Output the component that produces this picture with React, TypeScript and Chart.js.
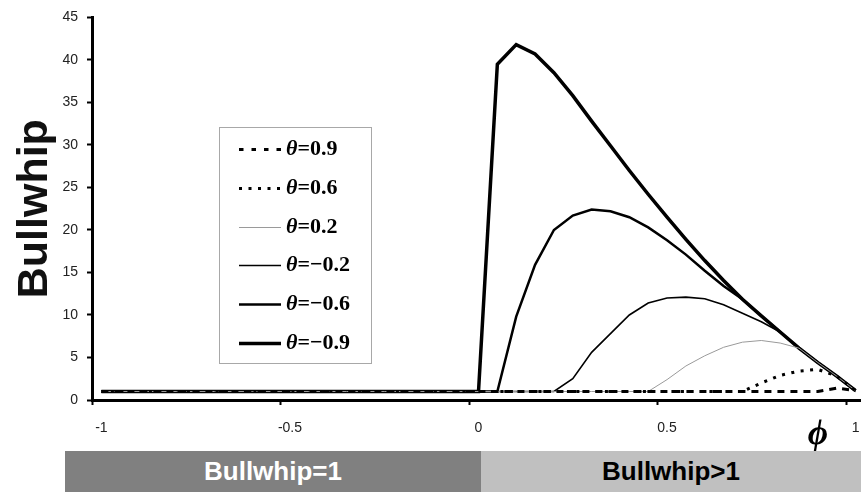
import React, { useEffect, useRef } from 'react';
import { Chart, registerables } from 'chart.js';

Chart.register(...registerables);

// phi categories (-1 .. 1 step 0.05)
const PHI = [
  '-1', '-0.95', '-0.9', '-0.85', '-0.8', '-0.75', '-0.7', '-0.65', '-0.6', '-0.55',
  '-0.5', '-0.45', '-0.4', '-0.35', '-0.3', '-0.25', '-0.2', '-0.15', '-0.1', '-0.05',
  '0', '0.05', '0.1', '0.15', '0.2', '0.25', '0.3', '0.35', '0.4', '0.45',
  '0.5', '0.55', '0.6', '0.65', '0.7', '0.75', '0.8', '0.85', '0.9', '0.95', '1',
];

const X_TICK_LABELS = ['-1', '-0.5', '0', '0.5', '1'];
const Y_TICKS_MAX = 45;

const SERIES_LABELS = ['θ=0.9', 'θ=0.6', 'θ=0.2', 'θ=−0.2', 'θ=−0.6', 'θ=−0.9'];

const THETA_P09 = [
  1, 1, 1, 1, 1, 1, 1, 1, 1, 1, 1, 1, 1, 1, 1, 1, 1, 1, 1, 1, 1,
  1, 1, 1, 1, 1, 1, 1, 1, 1, 1, 1, 1, 1, 1, 1, 1, 1, 1, 1.4, 1.1,
];
const THETA_P06 = [
  1, 1, 1, 1, 1, 1, 1, 1, 1, 1, 1, 1, 1, 1, 1, 1, 1, 1, 1, 1, 1,
  1, 1, 1, 1, 1, 1, 1, 1, 1, 1, 1, 1, 1, 1, 2.0, 2.9, 3.4, 3.6, 2.8, 1.1,
];
const THETA_P02 = [
  1, 1, 1, 1, 1, 1, 1, 1, 1, 1, 1, 1, 1, 1, 1, 1, 1, 1, 1, 1, 1,
  1, 1, 1, 1, 1, 1, 1, 1, 1, 2.4, 4.0, 5.2, 6.2, 6.8, 7.0, 6.7, 6.1, 4.4, 2.8, 1.1,
];
const THETA_M02 = [
  1, 1, 1, 1, 1, 1, 1, 1, 1, 1, 1, 1, 1, 1, 1, 1, 1, 1, 1, 1, 1,
  1, 1, 1, 1, 2.5, 5.6, 7.8, 10.0, 11.4, 12.0, 12.1, 11.9, 11.2, 10.2, 9.2, 8.0, 6.1, 4.4, 2.8, 1.1,
];
const THETA_M06 = [
  1, 1, 1, 1, 1, 1, 1, 1, 1, 1, 1, 1, 1, 1, 1, 1, 1, 1, 1, 1, 1,
  1, 9.8, 15.9, 20.0, 21.7, 22.4, 22.2, 21.5, 20.3, 18.8, 17.1, 15.2, 13.4, 11.85, 9.9, 8.0, 6.1, 4.4, 2.8, 1.1,
];
const THETA_M09 = [
  1, 1, 1, 1, 1, 1, 1, 1, 1, 1, 1, 1, 1, 1, 1, 1, 1, 1, 1, 1, 1,
  39.5, 41.8, 40.7, 38.5, 35.8, 32.8, 29.9, 27.0, 24.2, 21.5, 18.9, 16.4, 14.05, 11.85, 9.9, 8.0, 6.1, 4.4, 2.8, 1.1,
];

const overlayPlugin = {
  id: 'overlay',
  afterDraw(chart: any) {
    const ctx = chart.ctx;
    ctx.save();
    // legend box
    const bx = 219.5, by = 127.5, bw = 152, bh = 236;
    ctx.fillStyle = '#fff';
    ctx.fillRect(bx, by, bw, bh);
    ctx.strokeStyle = '#a8a8a8';
    ctx.lineWidth = 1;
    ctx.setLineDash([]);
    ctx.strokeRect(bx, by, bw, bh);
    chart.data.datasets.forEach((ds: any, i: number) => {
      const y = Math.round(149 + i * 38.8) + 0.5;
      ctx.beginPath();
      ctx.setLineDash(ds.legendDash || ds.borderDash || []);
      ctx.lineWidth = ds.borderWidth;
      ctx.strokeStyle = ds.borderColor;
      ctx.lineCap = 'butt';
      ctx.moveTo(239, y);
      ctx.lineTo(281, y);
      ctx.stroke();
      ctx.setLineDash([]);
      ctx.fillStyle = '#000';
      ctx.textBaseline = 'middle';
      ctx.textAlign = 'left';
      ctx.font = 'italic bold 22px "Liberation Serif", "DejaVu Serif", serif';
      ctx.fillText('θ', 286, y);
      const w = ctx.measureText('θ').width;
      ctx.font = 'bold 22px "Liberation Serif", "DejaVu Serif", serif';
      ctx.fillText(ds.label.slice(1), 286 + w, y);
    });
    // phi axis title
    const xs = chart.scales.x;
    ctx.font = 'italic bold 35px "Liberation Serif", "DejaVu Serif", serif';
    ctx.textAlign = 'center';
    ctx.textBaseline = 'middle';
    ctx.fillStyle = '#000';
    ctx.fillText('ϕ', xs.getPixelForValue(38), 435);
    ctx.restore();
  },
};

export default function App() {
  const ref = useRef<HTMLCanvasElement | null>(null);

  useEffect(() => {
    if (!ref.current) return;
    const mk = (i: number, data: number[], color: string, width: number, dash?: number[], legendDash?: number[]) => ({
      label: SERIES_LABELS[i],
      data,
      borderColor: color,
      backgroundColor: color,
      borderWidth: width,
      borderDash: dash || [],
      legendDash,
      borderCapStyle: 'butt',
      pointRadius: 0,
      fill: false,
      tension: 0,
    });
    const chart = new Chart(ref.current, {
      type: 'line',
      data: {
        labels: PHI,
        datasets: [
          mk(0, THETA_P09, '#000', 3, [7, 6], [4.5, 8]),
          mk(1, THETA_P06, '#000', 3, [3, 6.5]),
          mk(2, THETA_P02, '#9a9a9a', 1),
          mk(3, THETA_M02, '#000', 1.6),
          mk(4, THETA_M06, '#000', 2.5),
          mk(5, THETA_M09, '#000', 3.5),
        ] as any,
      },
      options: {
        responsive: false,
        animation: false,
        layout: { padding: { left: 0, right: 0, top: 16, bottom: 52 } },
        plugins: { legend: { display: false }, tooltip: { enabled: false } },
        scales: {
          x: {
            type: 'category',
            offset: true,
            grid: {
              offset: true,
              drawOnChartArea: false,
              drawTicks: true,
              tickLength: 5,
              tickWidth: 2,
              tickColor: (c: any) => (c.index % 10 === 0 && c.index <= 40 ? '#000' : 'rgba(0,0,0,0)'),
            },
            border: { display: true, color: '#000', width: 3 },
            ticks: {
              autoSkip: false,
              maxRotation: 0,
              minRotation: 0,
              padding: 3,
              color: '#222',
              font: { family: '"Liberation Sans", Arial, sans-serif', size: 14, lineHeight: '40px' },
              callback: (_v: any, i: number) => (i % 10 === 0 ? X_TICK_LABELS[i / 10] : ''),
            },
            afterFit: (s: any) => { s.height = 40; },
          },
          y: {
            min: 0,
            max: Y_TICKS_MAX,
            ticks: {
              stepSize: 5,
              padding: 9,
              color: '#222',
              font: { family: '"Liberation Sans", Arial, sans-serif', size: 14 },
            },
            grid: { drawOnChartArea: false, drawTicks: true, tickLength: 5, tickWidth: 2, tickColor: '#000' },
            border: { display: true, color: '#000', width: 3 },
            title: {
              display: true,
              text: 'Bullwhip',
              color: '#111',
              font: { family: '"Liberation Sans", Arial, sans-serif', size: 43, weight: 'bold' },
              padding: { top: 9, bottom: 0 },
            },
            afterFit: (s: any) => { s.width = 92; },
          },
        },
      } as any,
      plugins: [overlayPlugin],
    });
    return () => chart.destroy();
  }, []);

  const barText: React.CSSProperties = {
    position: 'absolute',
    top: 451,
    height: 41,
    display: 'flex',
    alignItems: 'center',
    justifyContent: 'center',
    fontFamily: '"Liberation Sans", Arial, sans-serif',
    fontWeight: 'bold',
    fontSize: 26,
  };

  return (
    <div style={{ position: 'fixed', left: 0, top: 0, width: 861, height: 492, overflow: 'hidden', background: '#fff' }}>
      <canvas ref={ref} width={865} height={492} style={{ display: 'block', width: 865, height: 492 }} />
      <div style={{ ...barText, left: 65, width: 416, background: '#808080', color: '#fff' }}>Bullwhip=1</div>
      <div style={{ ...barText, left: 481, width: 380, background: '#c0c0c0', color: '#000' }}>Bullwhip&gt;1</div>
    </div>
  );
}
